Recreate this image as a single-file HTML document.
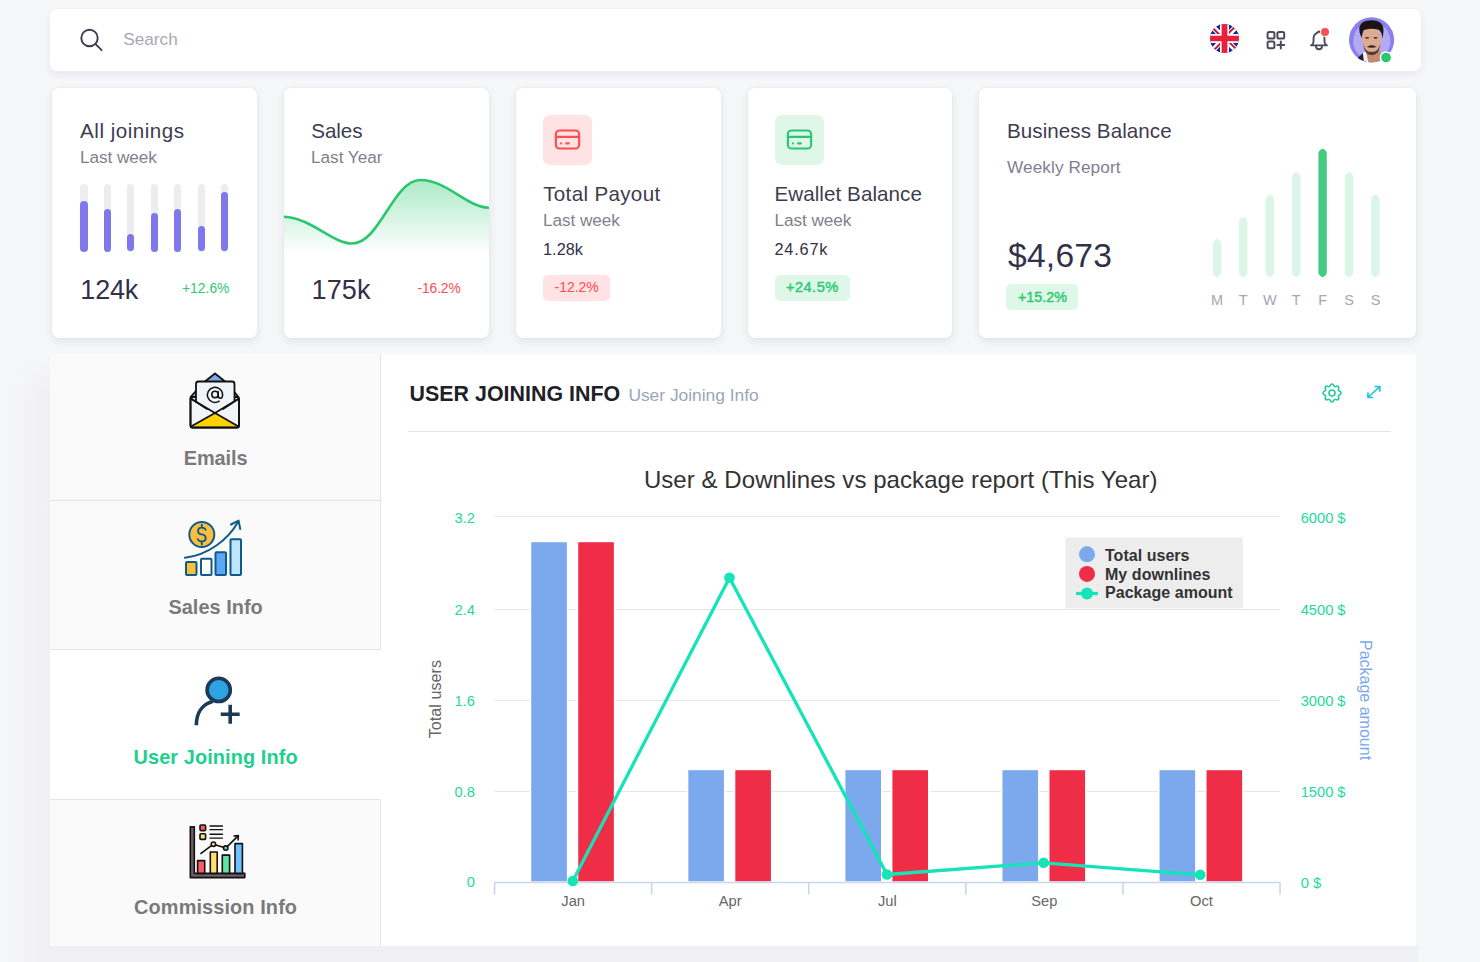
<!DOCTYPE html>
<html><head><meta charset="utf-8"><style>
html,body{margin:0;padding:0;}
body{width:1480px;height:962px;overflow:hidden;background:#f6f7f9;position:relative;font-family:"Liberation Sans",sans-serif;}
.t{position:absolute;white-space:nowrap;line-height:1;}
.b{position:absolute;}
svg text{font-family:"Liberation Sans",sans-serif;}
</style></head><body>
<div class="b" style="left:6.00px;top:354.00px;width:44.00px;height:608.00px;background:linear-gradient(90deg,rgba(240,239,244,0) 0%,#f0eff4 100%);"></div>
<div class="b" style="left:50.00px;top:946.00px;width:1368.00px;height:16.00px;background:#f0eff4;"></div>
<div class="b" style="left:0.00px;top:354.00px;width:50.00px;height:41.00px;background:linear-gradient(180deg,#f6f7f9 0%,rgba(246,247,249,0) 100%);"></div>
<div class="b" style="left:50.00px;top:9.00px;width:1371.00px;height:62.00px;background:#fff;border-radius:7px;box-shadow:0 3px 9px rgba(47,43,61,0.08);"></div>
<svg class="b" style="left:78px;top:27px" width="26" height="26" viewBox="0 0 26 26"><circle cx="11.5" cy="11" r="8.2" fill="none" stroke="#3e3c50" stroke-width="1.9"/><path d="M17.6 17.2 L23.6 23.2" stroke="#3e3c50" stroke-width="1.9" stroke-linecap="round"/></svg>
<div class="t" style="left:123.20px;top:30.94px;font-size:17.2px;color:#a9a8b4;letter-spacing:0.020px;">Search</div>
<svg class="b" style="left:1209.5px;top:23.6px" width="29" height="29" viewBox="0 0 512 512"><defs><clipPath id="fc"><circle cx="256" cy="256" r="256"/></clipPath></defs><g clip-path="url(#fc)">
<path fill="#0f22a0" d="M0 0h512v512H0z"/>
<path fill="#FFF" d="M512 0v64L322 256l190 187v69h-67L254 324 68 512H0v-68l186-187L0 74V0h62l192 188L440 0z"/>
<path fill="#C8102E" d="m184 324 11 34L42 512H0v-3zm124-12 54 8 150 147v45zM512 0 320 196l-4-44L466 0zM0 1l193 189-59-8L0 49z"/>
<path fill="#FFF" d="M176 0v512h160V0zM0 176v160h512V176z"/>
<path fill="#E8203A" d="M0 206v100h512v-100zM205 0v512h102V0z"/></g></svg>
<svg class="b" style="left:1264px;top:28px" width="24" height="24" viewBox="0 0 24 24" fill="none" stroke="#4b4a5c" stroke-width="2" stroke-linecap="round"><rect x="3.6" y="4" width="6.8" height="6.6" rx="1.6"/><rect x="13.4" y="4" width="6.8" height="6.6" rx="1.6"/><rect x="3.6" y="13.6" width="6.8" height="6.6" rx="1.6"/><path d="M13.4 17h6.8M16.8 13.6v6.8"/></svg>
<svg class="b" style="left:1306.5px;top:28px" width="24" height="24" viewBox="0 0 24 24" fill="none" stroke="#4b4a5c" stroke-width="1.9" stroke-linecap="round" stroke-linejoin="round"><path d="M10.5 4.6a1.6 1.6 0 0 1 3 0a6.8 6.8 0 0 1 4 6.2v3.2a4 4 0 0 0 2.4 3.4h-15.8a4 4 0 0 0 2.4 -3.4v-3.2a6.8 6.8 0 0 1 4 -6.2"/><path d="M9 17.6v0.6a3 3 0 0 0 6 0v-0.6"/></svg>
<div class="b" style="left:1320.60px;top:27.50px;width:8.20px;height:8.20px;background:#ff4c51;border-radius:50%;box-shadow:0 0 0 1px #fff;"></div>
<svg class="b" style="left:1345px;top:14px" width="55" height="52" viewBox="0 0 1018 962"><defs><clipPath id="av"><circle cx="492" cy="480" r="418"/></clipPath></defs>
<circle cx="492" cy="480" r="418" fill="#8b7ff0"/>
<g clip-path="url(#av)">
<circle cx="495" cy="500" r="345" fill="#b3aaf6"/>
<path d="M200 840 L340 715 L430 962 L180 962 Z" fill="#1c2030"/>
<path d="M380 660 L650 660 L680 962 L420 962 Z" fill="#c48a72"/>
<path d="M330 720 L385 690 L450 962 L360 962 Z" fill="#f1f1f3"/>
<ellipse cx="492" cy="480" rx="178" ry="260" fill="#dcaa93"/>
<path d="M335 540 C350 705 420 760 492 760 C575 760 640 705 655 540 C630 650 590 700 492 700 C400 700 360 650 335 540 Z" fill="#3b2a22" opacity="0.85"/>
<path d="M405 610 C450 570 535 570 585 610 C540 630 450 630 405 610 Z" fill="#3b2a22"/>
<path d="M265 300 C255 170 360 115 492 115 C645 115 725 195 712 320 L700 460 C688 380 668 305 605 285 C525 262 420 270 345 300 C322 345 315 400 314 440 C290 405 266 350 265 300 Z" fill="#1a1412"/>
<ellipse cx="410" cy="440" rx="40" ry="16" fill="#4a352c"/>
<ellipse cx="565" cy="440" rx="40" ry="16" fill="#4a352c"/>
</g>
<circle cx="760" cy="805" r="118" fill="#fff"/>
<circle cx="760" cy="805" r="90" fill="#28c76f"/>
</svg>
<div class="b" style="left:52.00px;top:88.40px;width:205.00px;height:249.80px;background:#fff;border-radius:7px;box-shadow:0 3px 10px rgba(47,43,61,0.10),0 0 2px rgba(47,43,61,0.05);"></div>
<div class="b" style="left:284.00px;top:88.40px;width:205.00px;height:249.80px;background:#fff;border-radius:7px;box-shadow:0 3px 10px rgba(47,43,61,0.10),0 0 2px rgba(47,43,61,0.05);"></div>
<div class="b" style="left:516.00px;top:88.40px;width:204.50px;height:249.80px;background:#fff;border-radius:7px;box-shadow:0 3px 10px rgba(47,43,61,0.10),0 0 2px rgba(47,43,61,0.05);"></div>
<div class="b" style="left:747.50px;top:88.40px;width:204.00px;height:249.80px;background:#fff;border-radius:7px;box-shadow:0 3px 10px rgba(47,43,61,0.10),0 0 2px rgba(47,43,61,0.05);"></div>
<div class="b" style="left:979.00px;top:88.40px;width:436.50px;height:249.80px;background:#fff;border-radius:7px;box-shadow:0 3px 10px rgba(47,43,61,0.10),0 0 2px rgba(47,43,61,0.05);"></div>
<div class="t" style="left:80.10px;top:121.16px;font-size:20.6px;color:#3e3c50;letter-spacing:0.502px;">All joinings</div>
<div class="t" style="left:80.00px;top:149.24px;font-size:17.2px;color:#817f8e;letter-spacing:-0.055px;">Last week</div>
<div class="b" style="left:80.40px;top:184.00px;width:7.20px;height:67.50px;background:#ededf0;border-radius:4px;"></div>
<div class="b" style="left:80.40px;top:200.50px;width:7.20px;height:51.00px;background:#8077ec;border-radius:4px;"></div>
<div class="b" style="left:103.80px;top:184.00px;width:7.20px;height:67.50px;background:#ededf0;border-radius:4px;"></div>
<div class="b" style="left:103.80px;top:209.00px;width:7.20px;height:42.50px;background:#8077ec;border-radius:4px;"></div>
<div class="b" style="left:127.20px;top:184.00px;width:7.20px;height:67.50px;background:#ededf0;border-radius:4px;"></div>
<div class="b" style="left:127.20px;top:234.30px;width:7.20px;height:17.20px;background:#8077ec;border-radius:4px;"></div>
<div class="b" style="left:150.60px;top:184.00px;width:7.20px;height:67.50px;background:#ededf0;border-radius:4px;"></div>
<div class="b" style="left:150.60px;top:213.00px;width:7.20px;height:38.50px;background:#8077ec;border-radius:4px;"></div>
<div class="b" style="left:174.00px;top:184.00px;width:7.20px;height:67.50px;background:#ededf0;border-radius:4px;"></div>
<div class="b" style="left:174.00px;top:209.00px;width:7.20px;height:42.50px;background:#8077ec;border-radius:4px;"></div>
<div class="b" style="left:197.60px;top:184.00px;width:7.20px;height:67.50px;background:#ededf0;border-radius:4px;"></div>
<div class="b" style="left:197.60px;top:225.80px;width:7.20px;height:25.70px;background:#8077ec;border-radius:4px;"></div>
<div class="b" style="left:221.10px;top:184.00px;width:7.20px;height:67.50px;background:#ededf0;border-radius:4px;"></div>
<div class="b" style="left:221.10px;top:192.40px;width:7.20px;height:59.10px;background:#8077ec;border-radius:4px;"></div>
<div class="t" style="left:80.30px;top:277.04px;font-size:27px;color:#33314a;letter-spacing:-0.183px;">124k</div>
<div class="t" style="left:182.00px;top:282.12px;font-size:13.8px;color:#2ec971;letter-spacing:0.042px;">+12.6%</div>
<div class="t" style="left:311.30px;top:121.16px;font-size:20.6px;color:#3e3c50;letter-spacing:-0.083px;">Sales</div>
<div class="t" style="left:311.00px;top:149.24px;font-size:17.2px;color:#817f8e;letter-spacing:-0.017px;">Last Year</div>
<svg class="b" style="left:284px;top:170px" width="205" height="90" viewBox="284 170 205 90"><defs><linearGradient id="wg" x1="0" y1="0" x2="0" y2="1"><stop offset="0" stop-color="#28c76f" stop-opacity="0.38"/><stop offset="1" stop-color="#28c76f" stop-opacity="0"/></linearGradient></defs>
<path d="M284 216.8 C312 218 332 243.5 352 243.5 C380 243.5 393 180 420.5 180 C447 180 466 207 489 207.8 L489 254 L284 254Z" fill="url(#wg)"/>
<path d="M284 216.8 C312 218 332 243.5 352 243.5 C380 243.5 393 180 420.5 180 C447 180 466 207 489 207.8" fill="none" stroke="#28c76f" stroke-width="2.6"/></svg>
<div class="t" style="left:311.50px;top:276.74px;font-size:27px;color:#33314a;letter-spacing:0.150px;">175k</div>
<div class="t" style="left:417.50px;top:282.12px;font-size:13.8px;color:#ff4c51;letter-spacing:-0.105px;">-16.2%</div>
<div class="b" style="left:543.20px;top:115.20px;width:49.20px;height:49.40px;background:#ffe2e3;border-radius:7px;"></div>
<svg class="b" style="left:552.30px;top:124.4px" width="31" height="31" viewBox="0 0 24 24" fill="none" stroke="#ff4c51" stroke-width="1.65" stroke-linecap="round" stroke-linejoin="round"><rect x="3" y="5" width="18" height="14" rx="3"/><path d="M3 10h18M7 15h.01M11 15h2"/></svg>
<div class="t" style="left:543.20px;top:183.96px;font-size:20.6px;color:#3e3c50;letter-spacing:0.330px;">Total Payout</div>
<div class="t" style="left:543.00px;top:212.44px;font-size:17.2px;color:#817f8e;letter-spacing:-0.055px;">Last week</div>
<div class="t" style="left:543.00px;top:241.40px;font-size:16.3px;color:#33314a;letter-spacing:0.031px;">1.28k</div>
<div class="b" style="left:543.00px;top:275.00px;width:67.30px;height:26.40px;background:#ffe2e3;border-radius:5px;"></div>
<div class="t" style="left:554.50px;top:280.15px;font-size:14px;color:#ff4c51;letter-spacing:-0.012px;">-12.2%</div>
<div class="b" style="left:774.60px;top:115.20px;width:49.20px;height:49.40px;background:#dff7e9;border-radius:7px;"></div>
<svg class="b" style="left:783.70px;top:124.4px" width="31" height="31" viewBox="0 0 24 24" fill="none" stroke="#28c76f" stroke-width="1.65" stroke-linecap="round" stroke-linejoin="round"><rect x="3" y="5" width="18" height="14" rx="3"/><path d="M3 10h18M7 15h.01M11 15h2"/></svg>
<div class="t" style="left:774.50px;top:183.96px;font-size:20.6px;color:#3e3c50;letter-spacing:0.059px;">Ewallet Balance</div>
<div class="t" style="left:774.50px;top:212.44px;font-size:17.2px;color:#817f8e;letter-spacing:-0.055px;">Last week</div>
<div class="t" style="left:774.50px;top:241.40px;font-size:16.3px;color:#33314a;letter-spacing:0.812px;">24.67k</div>
<div class="b" style="left:774.50px;top:275.00px;width:75.40px;height:26.40px;background:#dff7e9;border-radius:5px;"></div>
<div class="t" style="left:786.00px;top:279.64px;font-size:14.6px;color:#2ec971;letter-spacing:0.455px;-webkit-text-stroke:0.45px #2ec971;">+24.5%</div>
<div class="t" style="left:1007.00px;top:121.26px;font-size:20.6px;color:#3e3c50;letter-spacing:0.063px;">Business Balance</div>
<div class="t" style="left:1007.00px;top:158.74px;font-size:17.2px;color:#817f8e;letter-spacing:0.093px;">Weekly Report</div>
<div class="t" style="left:1008.00px;top:239.15px;font-size:33.6px;color:#33314a;letter-spacing:0.246px;">$4,673</div>
<div class="b" style="left:1006.40px;top:284.00px;width:72.00px;height:26.40px;background:#dff7e9;border-radius:5px;"></div>
<div class="t" style="left:1018.00px;top:289.99px;font-size:14.3px;color:#2ec971;letter-spacing:0.020px;-webkit-text-stroke:0.45px #2ec971;">+15.2%</div>
<svg class="b" style="left:1190px;top:140px" width="200" height="145" viewBox="1190 140 200 145"><path d="M1212.90 243.80 Q1212.90 240.55 1217.10 238.80 Q1221.30 240.55 1221.30 243.80 L1221.30 272.20 Q1221.30 275.45 1217.10 277.20 Q1212.90 275.45 1212.90 272.20 Z" fill="#dbf6e6"/><path d="M1239.10 221.80 Q1239.10 218.55 1243.30 216.80 Q1247.50 218.55 1247.50 221.80 L1247.50 272.20 Q1247.50 275.45 1243.30 277.20 Q1239.10 275.45 1239.10 272.20 Z" fill="#dbf6e6"/><path d="M1265.60 199.50 Q1265.60 196.25 1269.80 194.50 Q1274.00 196.25 1274.00 199.50 L1274.00 272.20 Q1274.00 275.45 1269.80 277.20 Q1265.60 275.45 1265.60 272.20 Z" fill="#dbf6e6"/><path d="M1292.00 177.00 Q1292.00 173.75 1296.20 172.00 Q1300.40 173.75 1300.40 177.00 L1300.40 272.20 Q1300.40 275.45 1296.20 277.20 Q1292.00 275.45 1292.00 272.20 Z" fill="#dbf6e6"/><path d="M1318.40 153.50 Q1318.40 150.25 1322.60 148.50 Q1326.80 150.25 1326.80 153.50 L1326.80 272.20 Q1326.80 275.45 1322.60 277.20 Q1318.40 275.45 1318.40 272.20 Z" fill="#45cb80"/><path d="M1344.80 177.00 Q1344.80 173.75 1349.00 172.00 Q1353.20 173.75 1353.20 177.00 L1353.20 272.20 Q1353.20 275.45 1349.00 277.20 Q1344.80 275.45 1344.80 272.20 Z" fill="#dbf6e6"/><path d="M1371.30 199.50 Q1371.30 196.25 1375.50 194.50 Q1379.70 196.25 1379.70 199.50 L1379.70 272.20 Q1379.70 275.45 1375.50 277.20 Q1371.30 275.45 1371.30 272.20 Z" fill="#dbf6e6"/></svg>
<div class="t" style="left:1211.06px;top:293.02px;font-size:14.5px;color:#a7a5b1;">M</div>
<div class="t" style="left:1238.87px;top:293.02px;font-size:14.5px;color:#a7a5b1;">T</div>
<div class="t" style="left:1262.96px;top:293.02px;font-size:14.5px;color:#a7a5b1;">W</div>
<div class="t" style="left:1291.77px;top:293.02px;font-size:14.5px;color:#a7a5b1;">T</div>
<div class="t" style="left:1318.17px;top:293.02px;font-size:14.5px;color:#a7a5b1;">F</div>
<div class="t" style="left:1344.16px;top:293.02px;font-size:14.5px;color:#a7a5b1;">S</div>
<div class="t" style="left:1370.66px;top:293.02px;font-size:14.5px;color:#a7a5b1;">S</div>
<div class="b" style="left:50.00px;top:354.00px;width:1366.00px;height:592.20px;background:#fff;"></div>
<div class="b" style="left:50.00px;top:354.00px;width:331.00px;height:146.50px;background:#fafafa;border-right:1.5px solid #e4e4e4;border-bottom:1.5px solid #e4e4e4;box-sizing:border-box;"></div>
<div class="b" style="left:50.00px;top:500.50px;width:331.00px;height:149.30px;background:#fafafa;border-right:1.5px solid #e4e4e4;border-bottom:1.5px solid #e4e4e4;box-sizing:border-box;"></div>
<div class="b" style="left:50.00px;top:649.80px;width:331.00px;height:149.20px;background:#fff;"></div>
<div class="b" style="left:50.00px;top:798.50px;width:331.00px;height:147.70px;background:#fafafa;border-right:1.5px solid #e4e4e4;border-top:1.5px solid #e4e4e4;box-sizing:border-box;"></div>
<div class="t" style="left:183.70px;top:448.55px;font-size:19.9px;color:#7a7a7a;font-weight:bold;letter-spacing:-0.032px;">Emails</div>
<div class="t" style="left:168.40px;top:597.95px;font-size:19.9px;color:#7a7a7a;font-weight:bold;letter-spacing:0.044px;">Sales Info</div>
<div class="t" style="left:133.50px;top:747.95px;font-size:19.9px;color:#1ecf8e;font-weight:bold;letter-spacing:0.105px;">User Joining Info</div>
<div class="t" style="left:134.10px;top:897.75px;font-size:19.9px;color:#7a7a7a;font-weight:bold;letter-spacing:0.113px;">Commission Info</div>
<svg class="b" style="left:186px;top:370px" width="58" height="62" viewBox="186 370 58 62" stroke="#111" stroke-width="1.8" stroke-linejoin="round" stroke-linecap="round">
<path d="M190.5 397 L203 383 L215 373.5 L227 383 L238.5 397 Z" fill="#7fa7ee" stroke="#111"/>
<rect x="196" y="381.5" width="38.5" height="35" rx="2.5" fill="#f1f4f8"/>
<path d="M190.5 398.5 L190.5 425.5 Q190.5 427.5 192.5 427.5 L237 427.5 Q239 427.5 239 425.5 L239 398.5 L215 413 Z" fill="#f1f4f8"/>
<path d="M191 426.5 L215 413 L238.5 426.5 Z" fill="#ffd200" stroke="none"/>
<path d="M190.5 398.5 L190.5 425.5 Q190.5 427.5 192.5 427.5 L237 427.5 Q239 427.5 239 425.5 L239 398.5" fill="none"/>
<path d="M191 426.5 L215 413 L238.5 426.5" fill="none"/>
<path d="M191 398.5 L207 409 M239 398.5 L223 409" fill="none"/>
<circle cx="215" cy="394.5" r="3.2" fill="none" stroke-width="1.5"/><path d="M218.2 391.5 V395.8 Q218.2 398.3 220.4 398.3 Q222.6 398.3 222.6 394.8 A7.6 7.6 0 1 0 219.2 401.2" fill="none" stroke-width="1.5"/>
</svg>
<svg class="b" style="left:182px;top:517px" width="64" height="62" viewBox="182 517 64 62" stroke="#0f5a8c" stroke-width="2" stroke-linejoin="round">
<circle cx="201.8" cy="534.5" r="12.5" fill="#fbbf3f"/>
<path d="M205.6 529.8 Q204.8 527.6 201.8 527.6 Q198.1 527.6 198.1 530.9 Q198.1 533.9 201.8 534.4 Q205.7 534.9 205.7 538.3 Q205.7 541.4 201.8 541.4 Q198.7 541.4 197.9 539.2 M201.8 524.6 V527.6 M201.8 541.4 V544.4" fill="none" stroke-width="1.9" stroke-linecap="round"/>
<rect x="186" y="562" width="10.5" height="13" rx="1" fill="#fbbf3f"/>
<rect x="201" y="558.8" width="10.5" height="16.2" rx="1" fill="#fff"/>
<rect x="215.5" y="552.3" width="10.5" height="22.7" rx="1" fill="#5aa8f5"/>
<rect x="230.5" y="539.3" width="10.5" height="35.7" rx="1" fill="#bfe6fd"/>
<path d="M185 557.8 C208 555 228 540 238.3 521.5" fill="none" stroke-linecap="round"/>
<path d="M231 524.5 L238.6 520.6 L240.2 529" fill="none" stroke-linecap="round"/>
</svg>
<svg class="b" style="left:190px;top:672px" width="56" height="58" viewBox="190 672 56 58" stroke="#1b3a57" stroke-width="3.6" fill="none">
<circle cx="218.7" cy="689.9" r="11.6" fill="#2ea3e3"/>
<path d="M196.3 725.2 C196.5 712 203 704 212.6 701.5"/>
<path d="M220.7 714.3 H239.7 M230.2 704.8 V723.8"/>
</svg>
<svg class="b" style="left:187px;top:820px" width="62" height="62" viewBox="187 820 62 62" stroke="#111" stroke-width="1.6" stroke-linejoin="round">
<path d="M190.3 826.8 H194.3 V873.4 H244.8 V877.6 H190.3 Z" fill="#6b5e66" stroke="#111"/>
<rect x="197.6" y="860.6" width="7.1" height="12.8" fill="#ff5a6a"/>
<rect x="210.3" y="852" width="6.9" height="21.4" fill="#ffdf6b"/>
<rect x="222.3" y="855.1" width="7.3" height="18.3" fill="#5ee6a8"/>
<rect x="235" y="843.6" width="7.4" height="29.8" fill="#6fc2ff"/>
<rect x="200" y="825" width="5.6" height="5.6" rx="1" fill="#ff5a6a"/>
<rect x="200" y="833.8" width="5.6" height="5.6" rx="1" fill="#ffdf6b"/>
<path d="M209.5 826 H222.9 M209.5 829.6 H222.9 M209.5 834.2 H222.9 M209.5 838.1 H222.9" stroke-width="1.4"/>
<path d="M200.4 853.9 L213.4 844.2 L225.7 848.1 L238.1 835.9" fill="none" stroke-width="1.6"/>
<path d="M233.5 836 L238.4 835.6 L238 840.5" fill="none" stroke-width="1.6"/>
<circle cx="213.4" cy="844.2" r="2.2" fill="#ffdf6b"/>
<circle cx="225.7" cy="848.1" r="2.2" fill="#5ee6a8"/>
</svg>
<div class="t" style="left:409.50px;top:383.78px;font-size:21.4px;color:#1e2125;font-weight:bold;letter-spacing:0.021px;">USER JOINING INFO</div>
<div class="t" style="left:628.40px;top:387.17px;font-size:17.4px;color:#9ba6b6;letter-spacing:-0.011px;">User Joining Info</div>
<div class="b" style="left:408.00px;top:430.50px;width:983.00px;height:1.50px;background:#e6e6e6;"></div>
<svg class="b" style="left:1320px;top:381px" width="24" height="24" viewBox="0 0 24 24" fill="none" stroke="#22c99b" stroke-width="1.6" stroke-linecap="round" stroke-linejoin="round"><path d="M10.325 4.317c.426 -1.756 2.924 -1.756 3.35 0a1.724 1.724 0 0 0 2.573 1.066c1.543 -.94 3.31 .826 2.37 2.37a1.724 1.724 0 0 0 1.065 2.572c1.756 .426 1.756 2.924 0 3.35a1.724 1.724 0 0 0 -1.066 2.573c.94 1.543 -.826 3.31 -2.37 2.37a1.724 1.724 0 0 0 -2.572 1.065c-.426 1.756 -2.924 1.756 -3.35 0a1.724 1.724 0 0 0 -2.573 -1.066c-1.543 .94 -3.31 -.826 -2.37 -2.37a1.724 1.724 0 0 0 -1.065 -2.572c-1.756 -.426 -1.756 -2.924 0 -3.35a1.724 1.724 0 0 0 1.066 -2.573c-.94 -1.543 .826 -3.31 2.37 -2.37c1 .608 2.296 .07 2.572 -1.065z"/><circle cx="12" cy="12" r="3"/></svg>
<svg class="b" style="left:1364px;top:382px" width="20" height="20" viewBox="0 0 20 20" fill="none" stroke="#1ec3df" stroke-width="1.7" stroke-linecap="round" stroke-linejoin="round"><path d="M4 15.5 L15.8 4.5 M11.2 4.5 H15.8 V9 M4 11 V15.5 H8.6"/></svg>
<div class="t" style="left:643.90px;top:468.48px;font-size:24px;color:#333333;letter-spacing:0.062px;">User &amp; Downlines vs package report (This Year)</div>
<svg class="b" style="left:0;top:0" width="1480" height="962" viewBox="0 0 1480 962"><path d="M494.6 516.5 H1280" stroke="#e6e6e6" stroke-width="1.2"/><path d="M494.6 609.5 H1280" stroke="#e6e6e6" stroke-width="1.2"/><path d="M494.6 700.5 H1280" stroke="#e6e6e6" stroke-width="1.2"/><path d="M494.6 791.5 H1280" stroke="#e6e6e6" stroke-width="1.2"/><rect x="530.54" y="541.5" width="37" height="340.50" fill="#7ca8ee" stroke="#fff" stroke-width="1.4"/><rect x="577.54" y="541.5" width="37" height="340.50" fill="#f02d47" stroke="#fff" stroke-width="1.4"/><rect x="687.62" y="769.5" width="37" height="112.50" fill="#7ca8ee" stroke="#fff" stroke-width="1.4"/><rect x="734.62" y="769.5" width="37" height="112.50" fill="#f02d47" stroke="#fff" stroke-width="1.4"/><rect x="844.70" y="769.5" width="37" height="112.50" fill="#7ca8ee" stroke="#fff" stroke-width="1.4"/><rect x="891.70" y="769.5" width="37" height="112.50" fill="#f02d47" stroke="#fff" stroke-width="1.4"/><rect x="1001.78" y="769.5" width="37" height="112.50" fill="#7ca8ee" stroke="#fff" stroke-width="1.4"/><rect x="1048.78" y="769.5" width="37" height="112.50" fill="#f02d47" stroke="#fff" stroke-width="1.4"/><rect x="1158.86" y="769.5" width="37" height="112.50" fill="#7ca8ee" stroke="#fff" stroke-width="1.4"/><rect x="1205.86" y="769.5" width="37" height="112.50" fill="#f02d47" stroke="#fff" stroke-width="1.4"/><path d="M494.6 882.5 H1280" stroke="#ccd6eb" stroke-width="1.6"/><path d="M494.60 882 V894.5" stroke="#ccd6eb" stroke-width="1.6"/><path d="M651.68 882 V894.5" stroke="#ccd6eb" stroke-width="1.6"/><path d="M808.76 882 V894.5" stroke="#ccd6eb" stroke-width="1.6"/><path d="M965.84 882 V894.5" stroke="#ccd6eb" stroke-width="1.6"/><path d="M1122.92 882 V894.5" stroke="#ccd6eb" stroke-width="1.6"/><path d="M1280.00 882 V894.5" stroke="#ccd6eb" stroke-width="1.6"/><path d="M572.8 881 L729.5 577.7 L887 874.5 L1043.6 862.8 L1200.2 874.8" fill="none" stroke="#15e3b8" stroke-width="3.3" stroke-linejoin="round"/><circle cx="572.8" cy="881" r="5.3" fill="#15e3b8"/><circle cx="729.5" cy="577.7" r="5.3" fill="#15e3b8"/><circle cx="887" cy="874.5" r="5.3" fill="#15e3b8"/><circle cx="1043.6" cy="862.8" r="5.3" fill="#15e3b8"/><circle cx="1200.2" cy="874.8" r="5.3" fill="#15e3b8"/><rect x="1065.5" y="537.4" width="177.3" height="71" fill="#ededed"/><circle cx="1087" cy="554.3" r="8" fill="#7ca8ee"/><circle cx="1087" cy="573.9" r="8" fill="#f02d47"/><path d="M1076 593.5 H1098" stroke="#15e3b8" stroke-width="3.2"/><circle cx="1087" cy="593.5" r="6" fill="#15e3b8"/></svg>
<div class="t" style="left:454.61px;top:511.28px;font-size:14.67px;color:#1ed8a0;">3.2</div>
<div class="t" style="left:454.61px;top:603.28px;font-size:14.67px;color:#1ed8a0;">2.4</div>
<div class="t" style="left:454.61px;top:693.98px;font-size:14.67px;color:#1ed8a0;">1.6</div>
<div class="t" style="left:454.61px;top:785.28px;font-size:14.67px;color:#1ed8a0;">0.8</div>
<div class="t" style="left:466.84px;top:875.48px;font-size:14.67px;color:#1ed8a0;">0</div>
<div class="t" style="left:1300.70px;top:511.38px;font-size:14.67px;color:#1ed8a0;">6000 $</div>
<div class="t" style="left:1300.70px;top:603.48px;font-size:14.67px;color:#1ed8a0;">4500 $</div>
<div class="t" style="left:1300.70px;top:694.18px;font-size:14.67px;color:#1ed8a0;">3000 $</div>
<div class="t" style="left:1300.70px;top:785.48px;font-size:14.67px;color:#1ed8a0;">1500 $</div>
<div class="t" style="left:1300.70px;top:875.68px;font-size:14.67px;color:#1ed8a0;">0 $</div>
<div class="t" style="left:561.31px;top:893.98px;font-size:14.67px;color:#666666;">Jan</div>
<div class="t" style="left:718.80px;top:893.98px;font-size:14.67px;color:#666666;">Apr</div>
<div class="t" style="left:877.92px;top:893.98px;font-size:14.67px;color:#666666;">Jul</div>
<div class="t" style="left:1031.33px;top:893.98px;font-size:14.67px;color:#666666;">Sep</div>
<div class="t" style="left:1190.05px;top:893.98px;font-size:14.67px;color:#666666;">Oct</div>
<div class="t" style="left:1105.00px;top:547.85px;font-size:16px;color:#333333;font-weight:bold;letter-spacing:0.033px;">Total users</div>
<div class="t" style="left:1105.00px;top:566.75px;font-size:16px;color:#333333;font-weight:bold;letter-spacing:0.045px;">My downlines</div>
<div class="t" style="left:1105.00px;top:585.35px;font-size:16px;color:#333333;font-weight:bold;letter-spacing:0.042px;">Package amount</div>
<div class="t" style="left:441.2px;top:698.6px;font-size:16.2px;color:#666666;transform:translate(0,0) rotate(-90deg);transform-origin:0 0;"><span style="position:absolute;left:-39.25px;top:-13.7px;white-space:nowrap">Total users</span></div>
<div class="t" style="left:1358.8px;top:699.5px;font-size:16px;color:#7ca8ee;transform:rotate(90deg);transform-origin:0 0;"><span style="position:absolute;left:-60px;top:-13.55px;white-space:nowrap">Package amount</span></div>
</body></html>
